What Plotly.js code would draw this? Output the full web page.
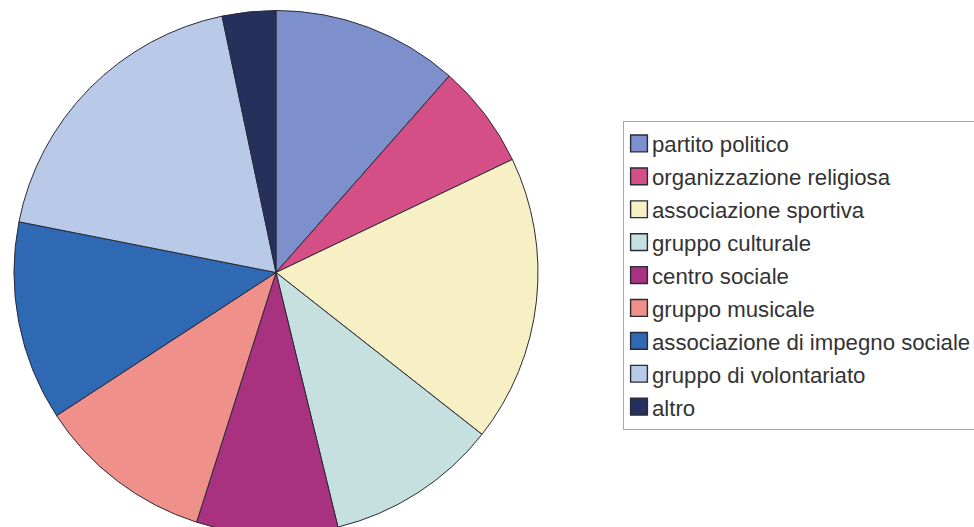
<!DOCTYPE html>
<html>
<head>
<meta charset="utf-8">
<script src="https://cdn.plot.ly/plotly-3.0.1.min.js"></script>
<style>
  html, body { margin: 0; padding: 0; background: #fff; overflow: hidden; }
  #chart { width: 974px; height: 545px; }
  /* legend: bigger swatches, slightly smaller text than the row pitch, frame nudged right */
  .legend .legendpoints path { transform: translate(27px, 0px) scale(1.4); }
  .legend .legendtext { font-size: 22.2px !important; }
  .legend rect.bg { transform: translateX(12px); }
</style>
</head>
<body>
<div id="chart"></div>
<script>
// Partecipazione per tipo di organizzazione (quote percentuali)
const categories = [
  'partito politico',
  'organizzazione religiosa',
  'associazione sportiva',
  'gruppo culturale',
  'centro sociale',
  'gruppo musicale',
  'associazione di impegno sociale',
  'gruppo di volontariato',
  'altro'
];
const shares = [11.5, 6.4, 17.7, 10.6, 8.7, 10.9, 12.3, 18.6, 3.3];
const sliceColors = [
  '#7d90cb', '#d44f85', '#f7f0c4', '#c6dfdf', '#a8327f',
  '#f0908a', '#2f69b3', '#b9c9e8', '#25305c'
];

const W = 974, H = 545;
const cx = 276, r = 262;

const trace = {
  type: 'pie',
  labels: categories,
  values: shares,
  sort: false,
  direction: 'clockwise',
  rotation: 0,
  textinfo: 'none',
  hoverinfo: 'label+percent',
  marker: { colors: sliceColors, line: { color: '#2a2a38', width: 1 } },
  domain: { x: [(cx - r) / W, (cx + r) / W], y: [0, 1] }
};

const layout = {
  width: W,
  height: H,
  margin: { l: 0, r: 0, t: 0, b: 0, autoexpand: false },
  paper_bgcolor: '#ffffff',
  font: { family: 'Liberation Sans, Arial, sans-serif', color: '#333333' },
  showlegend: true,
  legend: {
    x: 611 / W,
    xanchor: 'left',
    y: 1 - 121 / H,
    yanchor: 'top',
    bgcolor: '#ffffff',
    bordercolor: '#a8a8a8',
    borderwidth: 1,
    font: { size: 23, color: '#333333', family: 'Liberation Sans, Arial, sans-serif' },
    traceorder: 'normal'
  }
};

Plotly.newPlot('chart', [trace], layout, { staticPlot: true, displayModeBar: false });
</script>
</body>
</html>
